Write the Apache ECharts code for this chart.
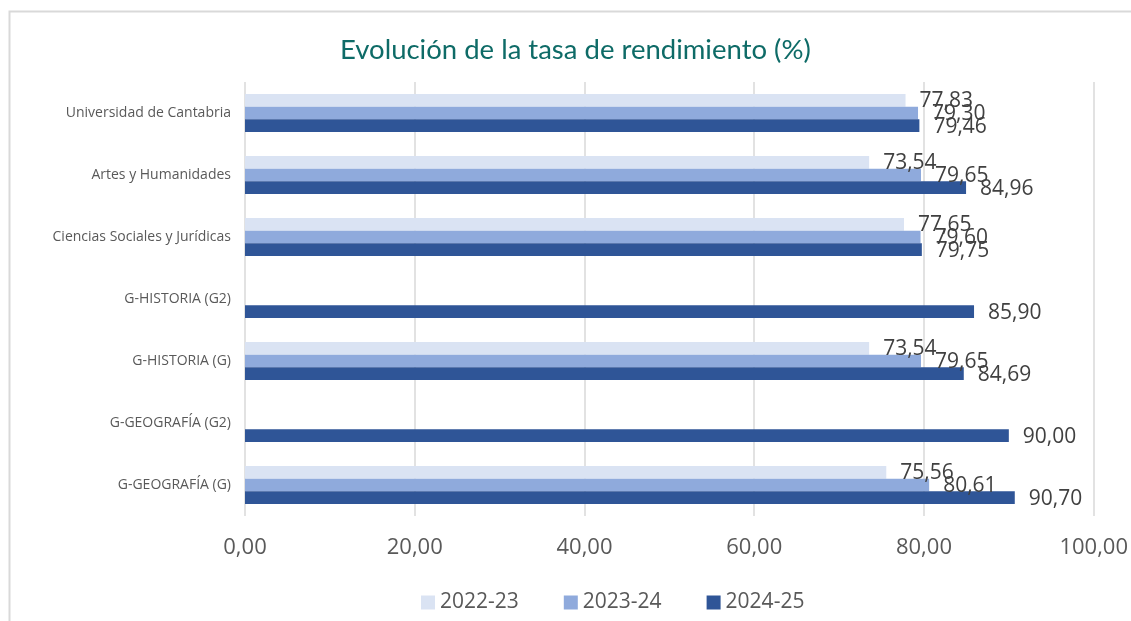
<!DOCTYPE html>
<html>
<head>
<meta charset="utf-8">
<script src="https://cdn.jsdelivr.net/npm/echarts@6/dist/echarts.min.js"></script>
<style>
  html, body { margin: 0; padding: 0; background: #fff; }
  #chart { width: 1131px; height: 621px; }
</style>
</head>
<body>
<div id="chart"></div>
<script>
  'use strict';

  var categories = [
    'Universidad de Cantabria',
    'Artes y Humanidades',
    'Ciencias Sociales y Jurídicas',
    'G-HISTORIA (G2)',
    'G-HISTORIA (G)',
    'G-GEOGRAFÍA (G2)',
    'G-GEOGRAFÍA (G)'
  ];
  var seriesNames = ['2022-23', '2023-24', '2024-25'];
  var values2223 = [77.83, 73.54, 77.65, null, 73.54, null, 75.56];
  var values2324 = [79.30, 79.65, 79.60, null, 79.65, null, 80.61];
  var values2425 = [79.46, 84.96, 79.75, 85.90, 84.69, 90.00, 90.70];
  var colors = ['#dae3f3', '#8faadc', '#2f5597'];

  function fmt(v) {
    return Number(v).toFixed(2).replace('.', ',');
  }

  function makeSeries(name, data, color) {
    return {
      name: name,
      type: 'bar',
      data: data,
      barGap: '0%',
      barCategoryGap: '39%',
      itemStyle: { color: color },
      label: {
        show: true,
        position: 'right',
        distance: 14,
        fontFamily: 'Open Sans',
        fontSize: 21,
        color: '#404040',
        offset: [0, 1],
        formatter: function (p) { return fmt(p.value); }
      }
    };
  }

  var chart = echarts.init(document.getElementById('chart'));
  chart.setOption({
    animation: false,
    textStyle: { fontFamily: 'Open Sans' },
    graphic: [{
      type: 'rect',
      left: 7, top: 9,
      shape: { width: 1200, height: 700 },
      style: { fill: 'none', stroke: '#d9d9d9', lineWidth: 2 },
      z: -1
    }],
    title: {
      text: 'Evolución de la tasa de rendimiento (%)',
      left: 335,
      top: 31,
      textStyle: { fontFamily: 'Lato', fontSize: 27.5, fontWeight: 'normal', color: '#0e6b67' }
    },
    legend: {
      top: 587,
      left: 416,
      itemWidth: 14,
      itemHeight: 14,
      itemGap: 45,
      icon: 'rect',
      textStyle: { fontSize: 21, color: '#595959' },
      data: seriesNames
    },
    grid: { left: 245, right: 37, top: 82, bottom: 105 },
    xAxis: {
      type: 'value',
      min: 0, max: 100, interval: 20,
      axisLine: { show: false },
      axisTick: { show: false },
      splitLine: { lineStyle: { color: '#d9d9d9', width: 1.5 } },
      axisLabel: {
        fontSize: 22, color: '#595959', margin: 21,
        formatter: function (v) { return fmt(v); }
      }
    },
    yAxis: {
      type: 'category',
      inverse: true,
      data: categories,
      axisLine: { show: false },
      axisTick: { show: false },
      axisLabel: { fontSize: 14, color: '#595959', margin: 14 }
    },
    series: [
      makeSeries(seriesNames[0], values2223, colors[0]),
      makeSeries(seriesNames[1], values2324, colors[1]),
      makeSeries(seriesNames[2], values2425, colors[2])
    ]
  });
</script>
</body>
</html>
